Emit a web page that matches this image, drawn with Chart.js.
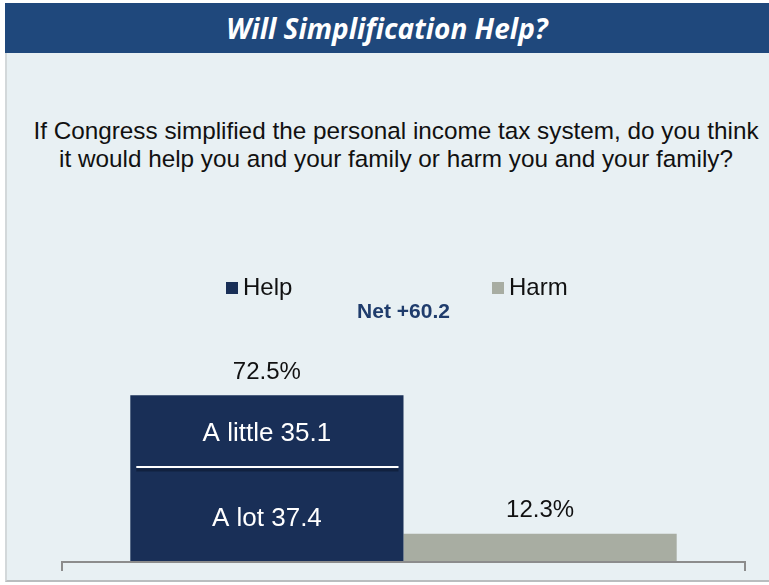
<!DOCTYPE html>
<html><head><meta charset="utf-8">
<script src="https://cdn.jsdelivr.net/npm/chart.js@4.4.0/dist/chart.umd.min.js"></script>
<style>
html,body{margin:0;padding:0;background:#fff;width:769px;height:585px;overflow:hidden;}
#panel{position:absolute;left:5px;top:3px;width:764px;height:579px;background:#e8f0f3;border-left:2px solid #d3d8da;border-bottom:2px solid #b9bdbf;box-sizing:border-box;}
#title{position:absolute;left:5px;top:3px;width:764px;height:50px;background:#1f487c;color:#fff;font-family:"Open Sans",sans-serif;font-weight:bold;font-style:italic;font-size:28px;line-height:50px;text-align:center;}
#q{position:absolute;left:7px;top:117px;width:778px;text-align:center;font-family:"Liberation Sans",Arial,sans-serif;font-size:24.3px;line-height:28px;color:#111;}
#c{position:absolute;left:0;top:0;}
</style></head>
<body>
<div id="panel"></div>
<div id="title">Will Simplification Help?</div>
<div id="q">If Congress simplified the personal income tax system, do you think<br>it would help you and your family or harm you and your family?</div>
<canvas id="c" width="769" height="585"></canvas>
<script>
const categories = ['Will simplification help?'];
const seriesNames = ['Help', 'Harm'];
const helpALot = [37.4];
const helpALittle = [35.1];
const harmValues = [12.3];
const segmentLabels = ['A lot', 'A little'];
const netLabel = 'Net +60.2';

const NAVY = '#192f57', GRAY = '#a8ada2';

const overlay = {
  id: 'overlay',
  afterDatasetsDraw(chart) {
    const ctx = chart.ctx, ca = chart.chartArea;
    const mLot = chart.getDatasetMeta(0).data[0];
    const mLittle = chart.getDatasetMeta(1).data[0];
    const mHarm = chart.getDatasetMeta(2).data[0];
    ctx.save();
    // separator line between stacked segments
    const half = mLot.width / 2;
    ctx.strokeStyle = 'rgba(10,20,40,0.5)'; ctx.lineWidth = 3;
    ctx.beginPath(); ctx.moveTo(mLot.x - half + 6, mLot.y - 6); ctx.lineTo(mLot.x + half - 5, mLot.y - 6); ctx.stroke();
    ctx.strokeStyle = '#ffffff'; ctx.lineWidth = 2;
    ctx.beginPath(); ctx.moveTo(mLot.x - half + 6, mLot.y - 9); ctx.lineTo(mLot.x + half - 5, mLot.y - 9); ctx.stroke();
    // axis line
    ctx.strokeStyle = '#8c8c8c'; ctx.lineWidth = 2;
    ctx.beginPath();
    ctx.moveTo(ca.left, ca.bottom + 9); ctx.lineTo(ca.left, ca.bottom);
    ctx.lineTo(ca.right, ca.bottom); ctx.lineTo(ca.right, ca.bottom + 9);
    ctx.stroke();
    // labels
    ctx.textAlign = 'center'; ctx.textBaseline = 'middle';
    ctx.font = '26px "Liberation Sans", Arial, sans-serif';
    ctx.fillStyle = '#ffffff';
    ctx.fillText(segmentLabels[0] + ' ' + helpALot[0].toFixed(1), mLot.x, (mLot.y + mLot.base) / 2);
    ctx.fillText(segmentLabels[1] + ' ' + helpALittle[0].toFixed(1), mLittle.x, (mLittle.y + mLittle.base) / 2 - 2);
    ctx.font = '24px "Liberation Sans", Arial, sans-serif';
    ctx.fillStyle = '#111';
    const helpTotal = helpALot[0] + helpALittle[0];
    ctx.fillText(helpTotal.toFixed(1) + '%', mLittle.x, mLittle.y - 23);
    ctx.fillText(harmValues[0].toFixed(1) + '%', mHarm.x, mHarm.y - 23);
    // net
    ctx.font = 'bold 21px "Liberation Sans", Arial, sans-serif';
    ctx.fillStyle = '#1f3c6c';
    ctx.fillText(netLabel, (ca.left + ca.right) / 2, ca.top - 20);
    // legend
    ctx.font = '24px "Liberation Sans", Arial, sans-serif';
    ctx.textAlign = 'left';
    const ly = ca.top - 44;
    ctx.fillStyle = NAVY; ctx.fillRect(226, ly - 6, 12, 12);
    ctx.fillStyle = '#111'; ctx.fillText(seriesNames[0], 243, ly);
    ctx.fillStyle = GRAY; ctx.fillRect(492, ly - 6, 12, 12);
    ctx.fillStyle = '#111'; ctx.fillText(seriesNames[1], 509, ly);
    ctx.restore();
  }
};

new Chart(document.getElementById('c'), {
  type: 'bar',
  data: {
    labels: categories,
    datasets: [
      { label: 'Help: ' + segmentLabels[0], data: helpALot, backgroundColor: NAVY, stack: 'help' },
      { label: 'Help: ' + segmentLabels[1], data: helpALittle, backgroundColor: NAVY, stack: 'help' },
      { label: 'Harm', data: harmValues, backgroundColor: GRAY, stack: 'harm' }
    ]
  },
  options: {
    responsive: false,
    animation: false,
    layout: { padding: { left: 62, right: 24, top: 332, bottom: 23 } },
    datasets: { bar: { barPercentage: 1, categoryPercentage: 0.8, borderWidth: 0 } },
    scales: {
      x: { display: false, stacked: true },
      y: { display: false, stacked: true, min: 0, max: 100 }
    },
    plugins: { legend: { display: false }, tooltip: { enabled: false } }
  },
  plugins: [overlay]
});
</script>
</body></html>
